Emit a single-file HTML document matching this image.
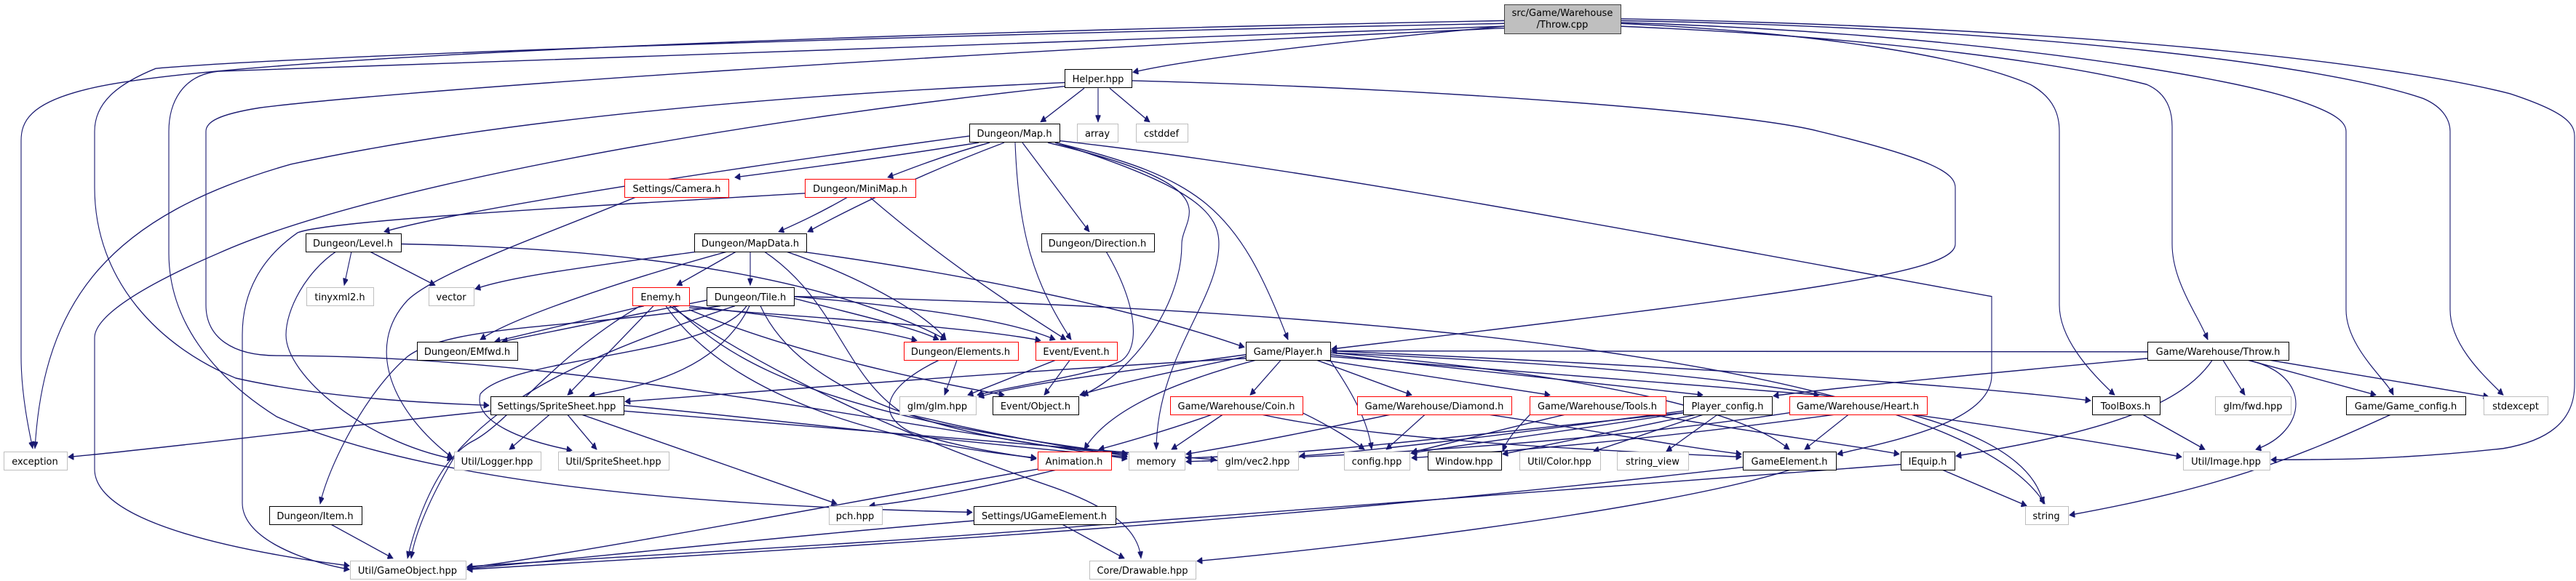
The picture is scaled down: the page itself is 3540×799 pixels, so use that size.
<!DOCTYPE html>
<html><head><meta charset="utf-8"><style>
html,body{margin:0;padding:0;background:#fff;}
svg{display:block;}
text{font-family:"DejaVu Sans","Liberation Sans",sans-serif;font-size:13px;fill:#000;text-anchor:middle;}
.e path{fill:none;stroke:#191970;stroke-width:1.1;}
</style></head><body>
<svg width="3540" height="799" viewBox="0 0 3540 799" xmlns="http://www.w3.org/2000/svg">
<defs><marker id="a" viewBox="0 0 10 10" refX="10" refY="5" markerWidth="9" markerHeight="7" orient="auto" markerUnits="userSpaceOnUse"><path d="M0,0 L10,5 L0,10 z" fill="#191970" stroke="#191970"/></marker></defs>
<g class="e" transform="scale(1,1.2903)" marker-end="url(#a)">
<path marker-end="url(#a)" d="M2067,22 C1200,35 300,60 120,95 C40,110 29,130 29,150 L29,380 C29,420 40,460 45,478"/>
<path marker-end="url(#a)" d="M2067,25 C1200,38 400,60 214,73 C160,90 130,110 130,140 L130,200 C130,300 220,370 324,403 C450,425 600,430 672,432"/>
<path marker-end="url(#a)" d="M2067,28 C1000,60 500,70 300,76 C250,80 232,110 232,140 L232,270 C232,340 290,400 380,444 C600,520 1000,540 1336,546"/>
<path marker-end="url(#a)" d="M2067,30 C1200,60 500,100 356,115 C300,122 283,130 283,140 L283,325 C283,360 320,379 380,379 C700,379 1000,420 1549,489"/>
<path marker-end="url(#a)" d="M2067,28 C1900,40 1650,60 1557,77"/>
<path marker-end="url(#a)" d="M1555,86 C2000,95 2400,120 2500,140 C2660,170 2687,185 2687,200 L2687,260 C2687,290 2500,310 1830,372"/>
<path marker-end="url(#a)" d="M1456,150 C1800,180 2200,240 2737,316 L2737,400 C2737,450 2600,470 2525,484"/>
<path marker-end="url(#a)" d="M2227,25 C2500,35 2700,60 2790,90 C2825,105 2830,125 2830,140 L2830,325 C2830,360 2870,395 2906,421"/>
<path marker-end="url(#a)" d="M2227,28 C2600,40 2850,70 2950,90 C2980,100 2985,120 2985,135 L2985,260 C2985,300 3020,335 3034,362"/>
<path marker-end="url(#a)" d="M2227,24 C2700,35 3050,80 3150,105 C3210,120 3224,130 3224,140 L3224,330 C3224,370 3280,405 3289,421"/>
<path marker-end="url(#a)" d="M2227,22 C2800,30 3200,70 3330,105 C3360,115 3367,130 3367,140 L3367,330 C3367,370 3420,405 3440,421"/>
<path marker-end="url(#a)" d="M2227,20 C2900,30 3300,70 3450,100 C3520,118 3538,130 3538,145 L3538,410 C3538,450 3500,470 3440,478 C3300,490 3200,490 3121,490"/>
<path marker-end="url(#a)" d="M1463,88 C1100,100 700,125 400,175 C150,230 60,320 48,478"/>
<path marker-end="url(#a)" d="M1463,92 C1000,130 500,200 300,270 C180,310 130,340 130,360 L130,500 C130,560 350,590 480,603"/>
<path marker-end="url(#a)" d="M1106,206 C800,220 450,235 409,248 C350,280 333,320 333,357 L333,536 C333,570 400,595 480,607"/>
<path marker-end="url(#a)" d="M1490,94 L1430,130"/>
<path marker-end="url(#a)" d="M1509,94 L1509,130"/>
<path marker-end="url(#a)" d="M1525,94 L1580,130"/>
<path marker-end="url(#a)" d="M1332,145 C900,190 600,230 528,247"/>
<path marker-end="url(#a)" d="M1345,152 C1200,170 1050,185 1010,189"/>
<path marker-end="url(#a)" d="M1360,152 C1300,165 1250,180 1220,189"/>
<path marker-end="url(#a)" d="M1380,152 C1250,190 1150,230 1110,247"/>
<path marker-end="url(#a)" d="M1405,152 L1497,247"/>
<path marker-end="url(#a)" d="M1395,152 C1400,250 1420,300 1472,362"/>
<path marker-end="url(#a)" d="M1450,152 C1650,190 1700,220 1770,362"/>
<path marker-end="url(#a)" d="M1440,152 C1700,200 1624,230 1624,260 C1624,330 1550,400 1488,421"/>
<path marker-end="url(#a)" d="M1450,152 C1650,200 1675,230 1675,260 C1675,320 1590,380 1589,479"/>
<path marker-end="url(#a)" d="M1165,210 C1120,230 1090,240 1070,247"/>
<path marker-end="url(#a)" d="M1195,210 C1300,280 1400,330 1465,362"/>
<path marker-end="url(#a)" d="M874,210 C750,250 600,290 560,320 C500,370 540,440 622,488"/>
<path marker-end="url(#a)" d="M990,326 C800,350 620,345 560,380 C500,420 450,500 440,537"/>
<path marker-end="url(#a)" d="M483,268 L473,304"/>
<path marker-end="url(#a)" d="M508,268 L598,304"/>
<path marker-end="url(#a)" d="M551,260 C900,265 1150,300 1300,362"/>
<path marker-end="url(#a)" d="M462,268 C420,290 393,330 393,357 C393,400 500,470 622,489"/>
<path marker-end="url(#a)" d="M960,268 C800,285 700,295 653,308"/>
<path marker-end="url(#a)" d="M1000,268 C850,300 700,340 660,362"/>
<path marker-end="url(#a)" d="M1012,268 L930,304"/>
<path marker-end="url(#a)" d="M1031,268 L1031,304"/>
<path marker-end="url(#a)" d="M1100,268 C1400,300 1600,340 1710,370"/>
<path marker-end="url(#a)" d="M1050,268 C1150,320 1160,400 1240,440 C1400,470 1500,480 1549,486"/>
<path marker-end="url(#a)" d="M1080,268 C1200,300 1280,340 1300,362"/>
<path marker-end="url(#a)" d="M885,326 L680,364"/>
<path marker-end="url(#a)" d="M898,326 L780,421"/>
<path marker-end="url(#a)" d="M947,326 C1100,340 1200,350 1260,363"/>
<path marker-end="url(#a)" d="M947,328 C1150,340 1350,350 1430,363"/>
<path marker-end="url(#a)" d="M915,326 C1000,420 1200,470 1424,488"/>
<path marker-end="url(#a)" d="M925,326 C1000,380 1100,440 1550,484"/>
<path marker-end="url(#a)" d="M920,326 C1100,420 1300,480 1450,520 C1540,545 1565,570 1568,595"/>
<path marker-end="url(#a)" d="M880,326 C760,380 700,450 650,470 C600,490 570,560 560,595"/>
<path marker-end="url(#a)" d="M947,330 C1100,380 1300,410 1380,421"/>
<path marker-end="url(#a)" d="M1091,318 C1200,340 1260,350 1290,362"/>
<path marker-end="url(#a)" d="M1091,316 C1300,330 1400,345 1450,362"/>
<path marker-end="url(#a)" d="M1030,326 C990,390 900,410 810,422"/>
<path marker-end="url(#a)" d="M1091,316 C2000,330 2700,400 2810,537"/>
<path marker-end="url(#a)" d="M1045,326 C1100,420 1300,470 1549,484"/>
<path marker-end="url(#a)" d="M1010,326 C800,380 700,420 630,480 C590,530 570,570 565,595"/>
<path marker-end="url(#a)" d="M971,320 L690,364"/>
<path marker-end="url(#a)" d="M1026,326 C980,380 700,380 660,420 C650,450 720,470 786,480"/>
<path marker-end="url(#a)" d="M1315,384 L1298,421"/>
<path marker-end="url(#a)" d="M1290,384 C1220,410 1200,440 1250,460 C1330,480 1400,485 1424,489"/>
<path marker-end="url(#a)" d="M1450,384 L1330,421"/>
<path marker-end="url(#a)" d="M1470,384 L1435,421"/>
<path marker-end="url(#a)" d="M1520,268 C1560,320 1570,370 1540,385 C1500,400 1400,410 1343,421"/>
<path marker-end="url(#a)" d="M1712,380 C1650,390 1550,405 1484,421"/>
<path marker-end="url(#a)" d="M1712,378 C1550,395 1400,410 1345,423"/>
<path marker-end="url(#a)" d="M1760,384 L1718,421"/>
<path marker-end="url(#a)" d="M1810,384 L1940,421"/>
<path marker-end="url(#a)" d="M1820,384 L2130,421"/>
<path marker-end="url(#a)" d="M1828,380 L2500,421"/>
<path marker-end="url(#a)" d="M1828,378 L2340,421"/>
<path marker-end="url(#a)" d="M1725,384 C1600,410 1520,440 1490,479"/>
<path marker-end="url(#a)" d="M1712,382 C1400,395 1000,420 859,428"/>
<path marker-end="url(#a)" d="M1828,374 C2300,390 2700,410 2873,427"/>
<path marker-end="url(#a)" d="M1828,376 C2200,400 2400,440 2459,479"/>
<path marker-end="url(#a)" d="M1828,376 C2400,395 2780,430 2808,537"/>
<path marker-end="url(#a)" d="M1828,384 C1860,420 1880,450 1885,479"/>
<path marker-end="url(#a)" d="M1665,442 C1600,460 1530,475 1510,479"/>
<path marker-end="url(#a)" d="M1680,442 L1610,479"/>
<path marker-end="url(#a)" d="M1790,440 C1830,455 1860,470 1875,479"/>
<path marker-end="url(#a)" d="M1735,442 C1900,470 2200,480 2393,487"/>
<path marker-end="url(#a)" d="M1958,442 L1905,479"/>
<path marker-end="url(#a)" d="M1910,442 C1800,460 1700,475 1630,484"/>
<path marker-end="url(#a)" d="M2047,442 C2200,460 2300,475 2393,484"/>
<path marker-end="url(#a)" d="M2150,442 C2050,460 1980,475 1940,482"/>
<path marker-end="url(#a)" d="M2105,440 C2080,460 2070,470 2065,481"/>
<path marker-end="url(#a)" d="M2270,442 C2400,460 2550,475 2610,484"/>
<path marker-end="url(#a)" d="M2313,440 C2150,460 2000,475 1939,483"/>
<path marker-end="url(#a)" d="M2330,442 L2065,484"/>
<path marker-end="url(#a)" d="M2340,442 L2190,481"/>
<path marker-end="url(#a)" d="M2360,442 L2290,481"/>
<path marker-end="url(#a)" d="M2313,438 C2100,460 1900,480 1786,486"/>
<path marker-end="url(#a)" d="M2313,440 C2000,465 1800,485 1630,488"/>
<path marker-end="url(#a)" d="M2540,442 L2480,479"/>
<path marker-end="url(#a)" d="M2520,442 C2300,465 2100,480 1940,488"/>
<path marker-end="url(#a)" d="M2630,442 C2800,460 2950,480 2998,487"/>
<path marker-end="url(#a)" d="M2459,440 C2200,470 1900,485 1630,492"/>
<path marker-end="url(#a)" d="M2945,442 L3030,479"/>
<path marker-end="url(#a)" d="M2951,382 C2700,400 2500,415 2437,422"/>
<path marker-end="url(#a)" d="M2951,375 L1830,374"/>
<path marker-end="url(#a)" d="M3040,384 C3000,430 2900,460 2688,486"/>
<path marker-end="url(#a)" d="M3055,384 L3085,421"/>
<path marker-end="url(#a)" d="M3090,384 C3180,400 3170,460 3100,479"/>
<path marker-end="url(#a)" d="M3090,384 L3265,421"/>
<path marker-end="url(#a)" d="M3120,384 L3420,423"/>
<path marker-end="url(#a)" d="M3285,442 C3150,490 3050,520 2844,549"/>
<path marker-end="url(#a)" d="M2670,501 L2785,539"/>
<path marker-end="url(#a)" d="M2612,495 C2200,520 1800,540 1500,560 C1200,580 800,595 642,604"/>
<path marker-end="url(#a)" d="M2459,501 C2300,540 1900,580 1645,598"/>
<path marker-end="url(#a)" d="M2395,498 C1700,560 1200,580 642,607"/>
<path marker-end="url(#a)" d="M755,442 L700,479"/>
<path marker-end="url(#a)" d="M780,442 L820,479"/>
<path marker-end="url(#a)" d="M800,442 L1150,537"/>
<path marker-end="url(#a)" d="M674,438 C400,460 200,480 94,487"/>
<path marker-end="url(#a)" d="M857,432 C1100,450 1300,470 1549,487"/>
<path marker-end="url(#a)" d="M857,438 C1200,460 1500,480 1671,490"/>
<path marker-end="url(#a)" d="M1450,501 C1350,520 1250,535 1195,539"/>
<path marker-end="url(#a)" d="M1426,500 C1200,530 800,590 642,605"/>
<path marker-end="url(#a)" d="M1338,555 C1100,570 800,595 642,606"/>
<path marker-end="url(#a)" d="M1460,559 L1545,595"/>
<path marker-end="url(#a)" d="M455,559 L540,595"/>
</g>
<g>
<rect x="2067.5" y="6.5" width="160" height="40" fill="#bfbfbf" stroke="#404040"/>
<text x="2147" y="22">src/Game/Warehouse</text><text x="2147" y="38">/Throw.cpp</text>
</g>
<g fill="#fff" stroke="#000">
<rect x="1463.5" y="95.5" width="92" height="25"/>
<rect x="1332.5" y="170.5" width="124" height="25"/>
<rect x="420.5" y="321.5" width="131" height="25"/>
<rect x="954.5" y="321.5" width="154" height="25"/>
<rect x="1431.5" y="321.5" width="155" height="25"/>
<rect x="971.5" y="395.5" width="120" height="25"/>
<rect x="573.5" y="470.5" width="138" height="25"/>
<rect x="1712.5" y="470.5" width="116" height="25"/>
<rect x="2951.5" y="470.5" width="194" height="25"/>
<rect x="674.5" y="545.5" width="183" height="25"/>
<rect x="1364.5" y="545.5" width="118" height="25"/>
<rect x="2313.5" y="545.5" width="122" height="25"/>
<rect x="2875.5" y="545.5" width="93" height="25"/>
<rect x="3224.5" y="545.5" width="164" height="25"/>
<rect x="1962.5" y="621.5" width="101" height="25"/>
<rect x="2395.5" y="621.5" width="128" height="25"/>
<rect x="2612.5" y="621.5" width="74" height="25"/>
<rect x="370.5" y="696.5" width="127" height="25"/>
<rect x="1338.5" y="696.5" width="195" height="25"/>
</g>
<g fill="#fff" stroke="#ff0000">
<rect x="858.5" y="246.5" width="143" height="25"/>
<rect x="1106.5" y="246.5" width="152" height="25"/>
<rect x="869.5" y="395.5" width="78" height="25"/>
<rect x="1242.5" y="470.5" width="157" height="25"/>
<rect x="1423.5" y="470.5" width="112" height="25"/>
<rect x="1608.5" y="545.5" width="182" height="25"/>
<rect x="1865.5" y="545.5" width="212" height="25"/>
<rect x="2102.5" y="545.5" width="187" height="25"/>
<rect x="2459.5" y="545.5" width="189" height="25"/>
<rect x="1426.5" y="621.5" width="101" height="25"/>
</g>
<g fill="#fff" stroke="#bfbfbf">
<rect x="1480.5" y="170.5" width="56" height="25"/>
<rect x="1561.5" y="170.5" width="71" height="25"/>
<rect x="421.5" y="395.5" width="92" height="25"/>
<rect x="589.5" y="395.5" width="62" height="25"/>
<rect x="1236.5" y="545.5" width="105" height="25"/>
<rect x="3044.5" y="545.5" width="104" height="25"/>
<rect x="3413.5" y="545.5" width="88" height="25"/>
<rect x="5.5" y="621.5" width="87" height="25"/>
<rect x="624.5" y="621.5" width="119" height="25"/>
<rect x="767.5" y="621.5" width="152" height="25"/>
<rect x="1551.5" y="621.5" width="77" height="25"/>
<rect x="1673.5" y="621.5" width="111" height="25"/>
<rect x="1847.5" y="621.5" width="90" height="25"/>
<rect x="2088.5" y="621.5" width="111" height="25"/>
<rect x="2222.5" y="621.5" width="98" height="25"/>
<rect x="3000.5" y="621.5" width="119" height="25"/>
<rect x="1139.5" y="696.5" width="73" height="25"/>
<rect x="2783.5" y="696.5" width="59" height="25"/>
<rect x="481.5" y="771.5" width="159" height="25"/>
<rect x="1497.5" y="771.5" width="146" height="25"/>
</g>
<g>
<text x="1509" y="113">Helper.hpp</text>
<text x="1394" y="188">Dungeon/Map.h</text>
<text x="1508" y="188">array</text>
<text x="1596" y="188">cstddef</text>
<text x="930" y="264">Settings/Camera.h</text>
<text x="1182" y="264">Dungeon/MiniMap.h</text>
<text x="485" y="339">Dungeon/Level.h</text>
<text x="1031" y="339">Dungeon/MapData.h</text>
<text x="1508" y="339">Dungeon/Direction.h</text>
<text x="467" y="413">tinyxml2.h</text>
<text x="620" y="413">vector</text>
<text x="908" y="413">Enemy.h</text>
<text x="1031" y="413">Dungeon/Tile.h</text>
<text x="642" y="488">Dungeon/EMfwd.h</text>
<text x="1320" y="488">Dungeon/Elements.h</text>
<text x="1479" y="488">Event/Event.h</text>
<text x="1770" y="488">Game/Player.h</text>
<text x="3048" y="488">Game/Warehouse/Throw.h</text>
<text x="765" y="563">Settings/SpriteSheet.hpp</text>
<text x="1288" y="563">glm/glm.hpp</text>
<text x="1423" y="563">Event/Object.h</text>
<text x="1699" y="563">Game/Warehouse/Coin.h</text>
<text x="1971" y="563">Game/Warehouse/Diamond.h</text>
<text x="2195" y="563">Game/Warehouse/Tools.h</text>
<text x="2374" y="563">Player_config.h</text>
<text x="2553" y="563">Game/Warehouse/Heart.h</text>
<text x="2921" y="563">ToolBoxs.h</text>
<text x="3096" y="563">glm/fwd.hpp</text>
<text x="3306" y="563">Game/Game_config.h</text>
<text x="3457" y="563">stdexcept</text>
<text x="48" y="639">exception</text>
<text x="683" y="639">Util/Logger.hpp</text>
<text x="843" y="639">Util/SpriteSheet.hpp</text>
<text x="1476" y="639">Animation.h</text>
<text x="1589" y="639">memory</text>
<text x="1728" y="639">glm/vec2.hpp</text>
<text x="1892" y="639">config.hpp</text>
<text x="2012" y="639">Window.hpp</text>
<text x="2143" y="639">Util/Color.hpp</text>
<text x="2271" y="639">string_view</text>
<text x="2459" y="639">GameElement.h</text>
<text x="2649" y="639">IEquip.h</text>
<text x="3059" y="639">Util/Image.hpp</text>
<text x="433" y="714">Dungeon/Item.h</text>
<text x="1175" y="714">pch.hpp</text>
<text x="1435" y="714">Settings/UGameElement.h</text>
<text x="2812" y="714">string</text>
<text x="560" y="789">Util/GameObject.hpp</text>
<text x="1570" y="789">Core/Drawable.hpp</text>
</g>
</svg>
</body></html>
